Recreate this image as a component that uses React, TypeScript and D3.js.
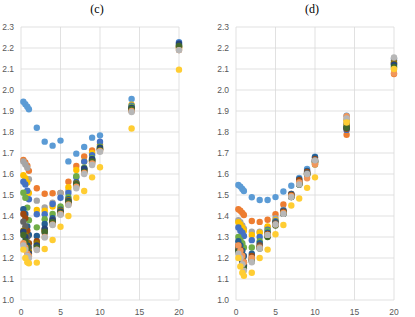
import React from 'react';
import * as d3 from 'd3';

// shared sampling positions along x
const xValues = [0.3, 0.55, 0.8, 1, 2, 3, 4, 5, 6, 7, 8, 9, 10, 14, 20];

// Office palette, one colour per series
const seriesColors = [
  '#5B9BD5', '#ED7D31', '#A5A5A5', '#FFC000', '#4472C4', '#70AD47',
  '#255E91', '#9E480E', '#636363', '#997300', '#264478', '#43682B',
  '#F1975A', '#B7B7B7', '#FFCD33',
];

const yTicks = [1.0, 1.1, 1.2, 1.3, 1.4, 1.5, 1.6, 1.7, 1.8, 1.9, 2.0, 2.1, 2.2, 2.3];
const xTicks = [0, 5, 10, 15, 20];

// panel (c), one row per series
const valuesC: number[][] = [
  [1.944, 1.932, 1.92, 1.908, 1.82, 1.754, 1.735, 1.759, 1.66, 1.697, 1.729, 1.773, 1.784, 1.957, 2.228],
  [1.667, 1.655, 1.64, 1.615, 1.532, 1.506, 1.508, 1.51, 1.563, 1.638, 1.683, 1.712, 1.74, 1.92, 2.2],
  [1.66, 1.645, 1.63, 1.575, 1.473, 1.441, 1.463, 1.51, 1.52, 1.56, 1.61, 1.65, 1.71, 1.9, 2.19],
  [1.594, 1.58, 1.56, 1.51, 1.429, 1.425, 1.445, 1.44, 1.537, 1.619, 1.66, 1.7, 1.73, 1.93, 2.2],
  [1.563, 1.55, 1.52, 1.48, 1.408, 1.408, 1.457, 1.487, 1.51, 1.585, 1.659, 1.69, 1.754, 1.925, 2.225],
  [1.511, 1.487, 1.44, 1.38, 1.346, 1.385, 1.41, 1.445, 1.49, 1.59, 1.63, 1.675, 1.73, 1.92, 2.21],
  [1.432, 1.41, 1.35, 1.31, 1.305, 1.362, 1.39, 1.43, 1.48, 1.56, 1.625, 1.67, 1.72, 1.915, 2.215],
  [1.41, 1.39, 1.33, 1.27, 1.28, 1.335, 1.38, 1.42, 1.47, 1.55, 1.62, 1.665, 1.72, 1.91, 2.21],
  [1.373, 1.35, 1.3, 1.25, 1.26, 1.32, 1.37, 1.41, 1.46, 1.545, 1.615, 1.66, 1.715, 1.905, 2.205],
  [1.33, 1.31, 1.27, 1.23, 1.27, 1.33, 1.375, 1.425, 1.475, 1.555, 1.62, 1.665, 1.72, 1.91, 2.205],
  [1.325, 1.3, 1.26, 1.22, 1.26, 1.34, 1.38, 1.42, 1.47, 1.55, 1.625, 1.67, 1.725, 1.915, 2.22],
  [1.31, 1.28, 1.25, 1.21, 1.25, 1.325, 1.37, 1.415, 1.465, 1.55, 1.61, 1.66, 1.715, 1.91, 2.21],
  [1.27, 1.25, 1.22, 1.21, 1.24, 1.3, 1.36, 1.41, 1.455, 1.54, 1.605, 1.65, 1.71, 1.9, 2.19],
  [1.26, 1.24, 1.21, 1.2, 1.238, 1.298, 1.357, 1.406, 1.452, 1.532, 1.6, 1.643, 1.706, 1.895, 2.19],
  [1.24, 1.2, 1.18, 1.175, 1.178, 1.243, 1.286, 1.349, 1.4, 1.487, 1.519, 1.584, 1.632, 1.817, 2.097],
];

// panel (d), one row per series
const valuesD: number[][] = [
  [1.548, 1.54, 1.529, 1.519, 1.489, 1.476, 1.476, 1.49, 1.517, 1.544, 1.581, 1.624, 1.682, 1.878, 2.15],
  [1.432, 1.425, 1.415, 1.405, 1.376, 1.372, 1.382, 1.408, 1.455, 1.505, 1.56, 1.6, 1.65, 1.787, 2.076],
  [1.38, 1.37, 1.355, 1.34, 1.325, 1.325, 1.345, 1.39, 1.43, 1.5, 1.565, 1.61, 1.665, 1.86, 2.15],
  [1.37, 1.36, 1.345, 1.33, 1.31, 1.32, 1.35, 1.38, 1.42, 1.495, 1.555, 1.6, 1.655, 1.855, 2.1],
  [1.345, 1.33, 1.32, 1.305, 1.285, 1.3, 1.335, 1.375, 1.425, 1.5, 1.56, 1.605, 1.66, 1.81, 2.12],
  [1.3, 1.285, 1.27, 1.25, 1.25, 1.28, 1.33, 1.37, 1.42, 1.495, 1.55, 1.6, 1.645, 1.825, 2.11],
  [1.28, 1.26, 1.235, 1.21, 1.22, 1.27, 1.32, 1.37, 1.425, 1.505, 1.575, 1.615, 1.68, 1.82, 2.13],
  [1.26, 1.24, 1.21, 1.18, 1.21, 1.26, 1.315, 1.365, 1.42, 1.5, 1.57, 1.61, 1.67, 1.815, 2.125],
  [1.25, 1.23, 1.2, 1.17, 1.2, 1.255, 1.31, 1.365, 1.415, 1.495, 1.56, 1.605, 1.665, 1.84, 2.14],
  [1.24, 1.22, 1.19, 1.165, 1.195, 1.25, 1.31, 1.36, 1.415, 1.495, 1.555, 1.6, 1.66, 1.83, 2.13],
  [1.235, 1.21, 1.18, 1.16, 1.19, 1.25, 1.305, 1.36, 1.41, 1.49, 1.55, 1.6, 1.66, 1.82, 2.12],
  [1.23, 1.2, 1.17, 1.15, 1.185, 1.245, 1.3, 1.355, 1.41, 1.49, 1.55, 1.595, 1.655, 1.82, 2.11],
  [1.26, 1.235, 1.21, 1.18, 1.2, 1.25, 1.31, 1.36, 1.415, 1.495, 1.56, 1.58, 1.645, 1.875, 2.08],
  [1.22, 1.2, 1.17, 1.14, 1.18, 1.245, 1.31, 1.36, 1.41, 1.49, 1.55, 1.6, 1.665, 1.865, 2.155],
  [1.2, 1.16, 1.13, 1.115, 1.13, 1.2, 1.24, 1.313, 1.357, 1.45, 1.483, 1.534, 1.584, 1.845, 2.1],
];

const W = 415;
const H = 317;
const TOP = 27;
const BOTTOM = 300;
const labelFont = '"Liberation Sans", Arial, sans-serif';

type PanelProps = { title: string; left: number; right: number; values: number[][] };

const Panel = ({ title, left, right, values }: PanelProps) => {
  const x = d3.scaleLinear().domain([0, 20]).range([left, right]);
  const y = d3.scaleLinear().domain([1.0, 2.3]).range([BOTTOM, TOP]);

  return (
    <g>
      <text
        x={(left + right) / 2 - 3}
        y={13}
        textAnchor="middle"
        fontFamily='"Liberation Serif", "Times New Roman", serif'
        fontSize={12}
        fill="#000"
      >
        {title}
      </text>

      {/* grid */}
      {yTicks.map(t => (
        <line key={'h' + t} x1={left} x2={right} y1={y(t)} y2={y(t)} stroke="#D9D9D9" strokeWidth={0.8} />
      ))}
      {xTicks.map(t => (
        <line key={'v' + t} x1={x(t)} x2={x(t)} y1={TOP} y2={BOTTOM} stroke="#D9D9D9" strokeWidth={0.8} />
      ))}

      {/* tick labels */}
      {yTicks.map(t => (
        <text
          key={'yl' + t}
          x={left - 7}
          y={y(t) + 3}
          textAnchor="end"
          fontFamily={labelFont}
          fontSize={8.5}
          fill="#595959"
        >
          {t.toFixed(1)}
        </text>
      ))}
      {xTicks.map(t => (
        <text
          key={'xl' + t}
          x={x(t)}
          y={315}
          textAnchor="middle"
          fontFamily={labelFont}
          fontSize={8.5}
          fill="#595959"
        >
          {t}
        </text>
      ))}

      {/* markers */}
      {values.map((row, si) => (
        <g key={'s' + si} fill={seriesColors[si]}>
          {row.map((v, i) => (
            <circle key={i} cx={x(xValues[i])} cy={y(v)} r={3.2} />
          ))}
        </g>
      ))}
    </g>
  );
};

export default function App() {
  return (
    <div style={{ position: 'absolute', left: 0, top: 0 }}>
      <svg width={W} height={H} style={{ display: 'block', background: '#fff' }}>
        <Panel title="(c)" left={21} right={179} values={valuesC} />
        <Panel title="(d)" left={236} right={394} values={valuesD} />
      </svg>
    </div>
  );
}
